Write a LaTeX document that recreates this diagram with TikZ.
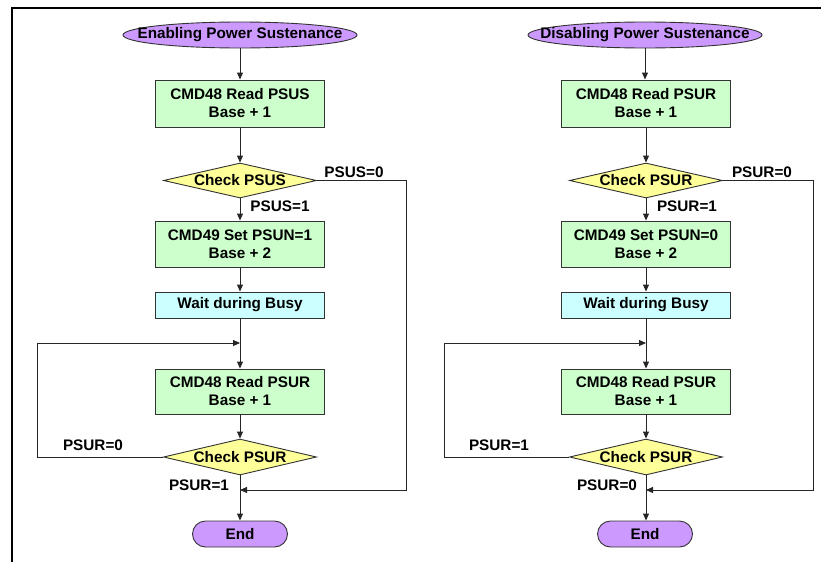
\documentclass[tikz,border=0pt]{standalone}
\usepackage{fontspec}
\setmainfont{Liberation Sans}
\usetikzlibrary{shapes.geometric,arrows.meta}
\definecolor{purp}{HTML}{CC99FF}
\definecolor{grn}{HTML}{CCFFCC}
\definecolor{yel}{HTML}{FFFF99}
\definecolor{cyn}{HTML}{CCFFFF}
\definecolor{edge}{HTML}{333333}
\begin{document}
\begin{tikzpicture}[x=1pt,y=-1pt,
  font=\bfseries\fontsize{15.3}{18}\selectfont,
  startshape/.style={ellipse, draw=edge, fill=purp, line width=0.9pt, minimum width=234pt, minimum height=26pt, inner sep=0pt},
  endshape/.style={rectangle, rounded corners=13pt, draw=edge, fill=purp, line width=0.9pt, minimum width=95pt, minimum height=26pt, inner sep=0pt},
  procbox/.style={rectangle, draw=edge, fill=grn, line width=0.9pt, minimum width=169pt, minimum height=46pt, inner sep=0pt, align=center},
  waitbox/.style={rectangle, draw=edge, fill=cyn, line width=0.9pt, minimum width=169pt, minimum height=26pt, inner sep=0pt},
  decision/.style={diamond, draw=edge, fill=yel, line width=0.9pt, aspect=4.37, minimum width=153pt, minimum height=35pt, inner sep=0pt},
  lbl/.style={inner sep=0pt},
  conn/.style={draw=black!85, line width=0.9pt},
  arr/.style={conn, -{Triangle[length=7pt,width=6pt]}}
]
\useasboundingbox (0,0) rectangle (821,562);
% frame
\coordinate (fbl) at (12,562);
\coordinate (ftl) at (12,8);
\coordinate (ftr) at (821,8);
\draw[line width=1.2pt] (fbl) -- (ftl) -- (ftr);

% ---------- left column ----------
\node[startshape] (sA) at (240,35) {};
\node (sAt) at (sA) {Enabling Power Sustenance};
\node[procbox, minimum height=47pt] (bA1) at (240,103.5) {CMD48 Read PSUS\\Base + 1};
\node[decision] (dA1) at (240,180.5) {Check PSUS};
\node[procbox] (bA2) at (240,244) {CMD49 Set PSUN=1\\Base + 2};
\node[waitbox] (wA) at (240,305) {Wait during Busy};
\node[procbox, minimum height=45pt] (bA3) at (240,391.5) {CMD48 Read PSUR\\Base + 1};
\node[decision, minimum height=36pt] (dA2) at (240,457) {Check PSUR};
\node[endshape] (eA) at (240,534) {End};
\coordinate (jA1) at (240,343);
\coordinate (jA2) at (240,490);
\coordinate (rA) at (406,180.5);
\coordinate (lA) at (37,457);

\draw[arr] (sA) -- (bA1);
\draw[arr] (bA1) -- (dA1);
\draw[arr] (dA1) -- (bA2);
\draw[arr] (bA2) -- (wA);
\draw[arr] (wA) -- (bA3);
\draw[arr] (bA3) -- (dA2);
\draw[arr] (dA2) -- (eA);
\draw[arr] (dA1.east) -- (rA) |- (jA2);
\draw[arr] (dA2.west) -- (lA) |- (jA1);

\node[lbl] (tA1) at (354,172) {PSUS=0};
\node[lbl] (tA2) at (280,206) {PSUS=1};
\node[lbl] (tA3) at (93,445) {PSUR=0};
\node[lbl] (tA4) at (199,485) {PSUR=1};

% ---------- right column ----------
\node[startshape] (sB) at (645,35) {};
\node (sBt) at (sB) {Disabling Power Sustenance};
\node[procbox, minimum height=47pt] (bB1) at (646,103.5) {CMD48 Read PSUR\\Base + 1};
\node[decision] (dB1) at (646,180.5) {Check PSUR};
\node[procbox] (bB2) at (646,244) {CMD49 Set PSUN=0\\Base + 2};
\node[waitbox] (wB) at (646,305) {Wait during Busy};
\node[procbox, minimum height=45pt] (bB3) at (646,391.5) {CMD48 Read PSUR\\Base + 1};
\node[decision, minimum height=36pt] (dB2) at (646,457) {Check PSUR};
\node[endshape] (eB) at (645,534) {End};
\coordinate (jB1) at (646,343);
\coordinate (jB2) at (646,490);
\coordinate (rB) at (813,180.5);
\coordinate (lB) at (444,457);

\draw[arr] (sB) -- (sB |- bB1.north);
\draw[arr] (bB1) -- (dB1);
\draw[arr] (dB1) -- (bB2);
\draw[arr] (bB2) -- (wB);
\draw[arr] (wB) -- (bB3);
\draw[arr] (bB3) -- (dB2);
\draw[arr] (dB2) -- (dB2 |- eB.north);
\draw[arr] (dB1.east) -- (rB) |- (jB2);
\draw[arr] (dB2.west) -- (lB) |- (jB1);

\node[lbl] (tB1) at (762,172) {PSUR=0};
\node[lbl] (tB2) at (687,206) {PSUR=1};
\node[lbl] (tB3) at (499,445) {PSUR=1};
\node[lbl] (tB4) at (607,485) {PSUR=0};
\end{tikzpicture}
\end{document}
